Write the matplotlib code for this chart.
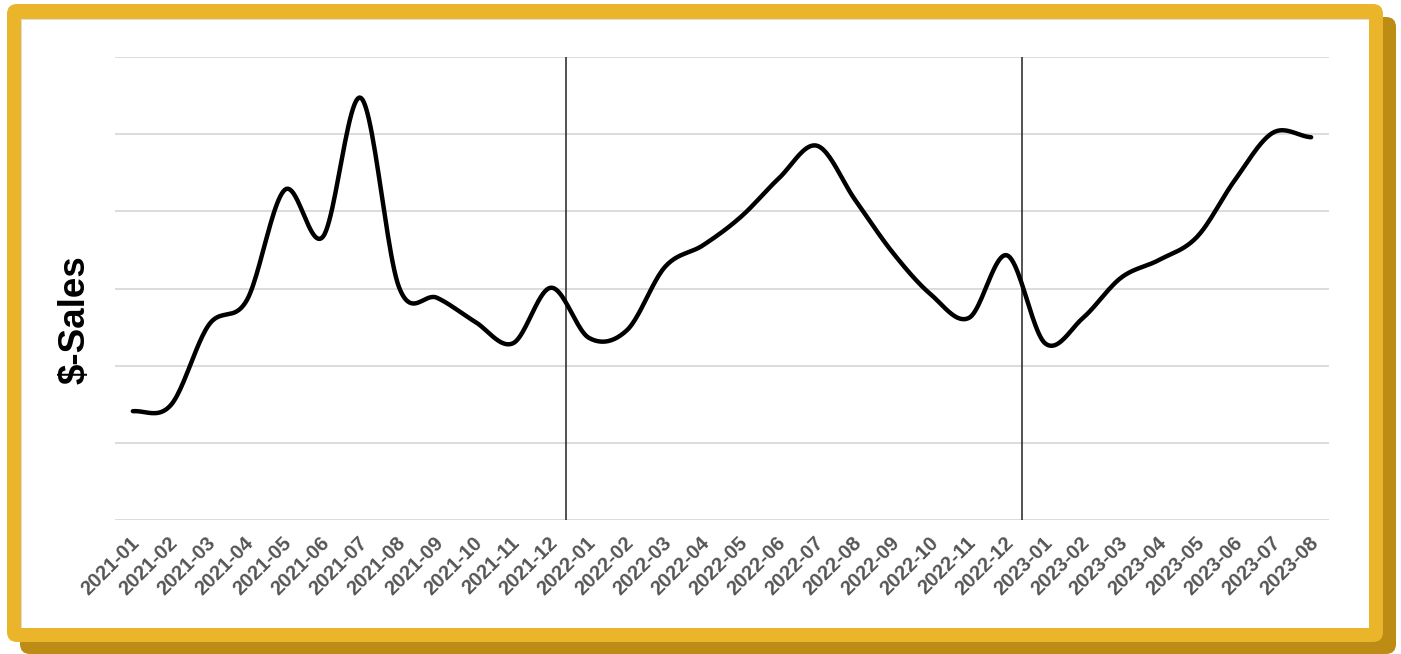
import numpy as np
import matplotlib
matplotlib.use("Agg")
import matplotlib.pyplot as plt
from matplotlib.patches import FancyBboxPatch, Rectangle
from matplotlib.transforms import ScaledTranslation

# ---- data ----
months = ["2021-01", "2021-02", "2021-03", "2021-04", "2021-05", "2021-06", "2021-07", "2021-08",
          "2021-09", "2021-10", "2021-11", "2021-12", "2022-01", "2022-02", "2022-03", "2022-04",
          "2022-05", "2022-06", "2022-07", "2022-08", "2022-09", "2022-10", "2022-11", "2022-12",
          "2023-01", "2023-02", "2023-03", "2023-04", "2023-05", "2023-06", "2023-07", "2023-08"]
sales = [14.1, 14.9, 25.3, 28.5, 42.8, 36.7, 54.7, 30.2,
         28.8, 25.7, 22.9, 30.1, 23.6, 24.6, 32.8, 35.6,
         39.3, 44.3, 48.5, 41.5, 34.6, 29.2, 26.2, 34.3,
         22.9, 26.2, 31.4, 33.7, 36.7, 44.1, 50.2, 49.6]
year_markers = [11.4, 23.4]
ylabel = "$-Sales"

W, H = 1401, 654
fig = plt.figure(figsize=(W / 100, H / 100), dpi=100)

# ---- decorative frame ----
bg = fig.add_axes([0, 0, 1, 1], zorder=0)
bg.set_xlim(0, W)
bg.set_ylim(H, 0)
bg.axis("off")
bg.add_patch(FancyBboxPatch((20, 17), 1376, 637, boxstyle="round,pad=0,rounding_size=10",
                            fc="#BD8C15", ec="none"))
bg.add_patch(FancyBboxPatch((7, 4), 1376, 638, boxstyle="round,pad=0,rounding_size=10",
                            fc="#EAB52A", ec="none"))
bg.add_patch(Rectangle((21, 19), 1348, 609, fc="#DDDDDD", ec="none"))
bg.add_patch(Rectangle((22, 20), 1347, 608, fc="white", ec="none"))


def smooth(yv, n=24):
    yv = np.asarray(yv, dtype=float)
    xs, ys = [], []
    N = len(yv)
    for i in range(N - 1):
        p0 = yv[max(i - 1, 0)]
        p1 = yv[i]
        p2 = yv[i + 1]
        p3 = yv[min(i + 2, N - 1)]
        t = np.linspace(0, 1, n, endpoint=False)
        s = 0.5 * ((2 * p1) + (-p0 + p2) * t + (2 * p0 - 5 * p1 + 4 * p2 - p3) * t ** 2
                   + (-p0 + 3 * p1 - 3 * p2 + p3) * t ** 3)
        xs.append(i + t)
        ys.append(s)
    xs.append(np.array([N - 1]))
    ys.append(np.array([yv[-1]]))
    return np.concatenate(xs), np.concatenate(ys)


# ---- main axes ----
ax = fig.add_axes([115 / W, 1 - 520 / H, 1214 / W, 463 / H], zorder=1)
ax.patch.set_alpha(0)
xs, ys = smooth(sales)
ax.plot(xs, ys, color="black", lw=3.2, solid_capstyle="round", zorder=3)
for m in year_markers:
    ax.axvline(m, color="#222222", lw=1.1, zorder=2)

ax.set_xlim(-0.47, len(months) - 1 + 0.47)
ax.set_ylim(0, 60)
ax.set_yticks(np.arange(0, 61, 10))
ax.yaxis.grid(True, color="#D9D9D9", lw=1.3)
ax.set_axisbelow(True)
ax.tick_params(axis="y", length=0, labelleft=False)
ax.set_xticks(range(len(months)))
ax.set_xticklabels(months, rotation=45, ha="right", va="center", rotation_mode="anchor",
                   fontsize=14.5, fontweight="bold", color="#555555", family="Liberation Sans")
ax.tick_params(axis="x", length=0, pad=17)
shift = ScaledTranslation(4 / 100, 4 / 100, fig.dpi_scale_trans)
for lab in ax.get_xticklabels():
    lab.set_transform(lab.get_transform() + shift)
for s in ax.spines.values():
    s.set_visible(False)

fig.text(75 / W, 1 - 320 / H, ylabel, rotation=90, ha="center", va="center",
         fontsize=26.5, fontweight="bold", family="Liberation Sans", color="black")

fig.savefig("out.png", dpi=100)
